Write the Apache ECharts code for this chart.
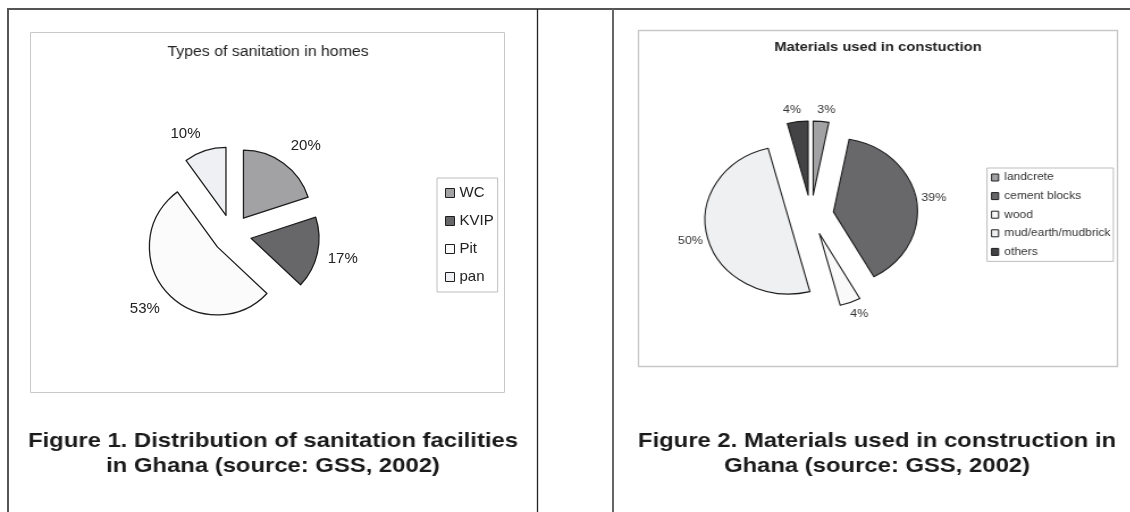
<!DOCTYPE html>
<html>
<head>
<meta charset="utf-8">
<script src="https://cdn.jsdelivr.net/npm/echarts@6/dist/echarts.min.js"></script>
<style>
  html, body { margin: 0; padding: 0; background: #fff; }
  #wrap { position: relative; width: 1130px; height: 512px; overflow: hidden; }
  #flat, #wide { position: absolute; left: 0; top: 0; width: 1130px; height: 512px; }
  /* the scanned page is squeezed vertically: text and the right pie come out wider than tall */
  #wide { transform-origin: 0 0; transform: scaleX(1.135); pointer-events: none; }
</style>
</head>
<body>
<div id="wrap"><div id="flat"></div><div id="wide"></div></div>
<script>
// Figure 1: types of sanitation in homes (%)
const sanitationNames = ['WC', 'KVIP', 'Pit', 'pan']
const sanitationValues = [20, 17, 53, 10]
const sanitationColors = ['#a2a2a5', '#676769', '#fbfbfb', '#eef0f3']
// label line [length, length2] per slice, to sit the labels where Excel put them
const sanitationLabelLine = [[21, 10], [26, 0], [26, 2], [17.6, 14]]

// Figure 2: materials used in construction (%)
const materialNames = ['landcrete', 'cement blocks', 'wood', 'mud/earth/mudbrick', 'others']
const materialValues = [3, 39, 4, 50, 4]
const materialColors = ['#a2a2a5', '#68686b', '#f9f9f9', '#eff0f2', '#434345']

const titles = ['Types of sanitation in homes', 'Materials used in constuction']
const captions = [
  'Figure 1. Distribution of sanitation facilities\nin Ghana (source: GSS, 2002)',
  'Figure 2. Materials used in construction in\nGhana (source: GSS, 2002)'
]

const FONT = '"Liberation Sans", Arial, sans-serif'
const EDGE = '#1e1e1e'
const S = 1.135
const bx = x => x / S   // page x -> x inside the stretched chart

const flat = echarts.init(document.getElementById('flat'))
const wide = echarts.init(document.getElementById('wide'))

flat.setOption({
  animation: false,
  graphic: [
    { type: 'line', shape: { x1: 7, y1: 9, x2: 1130, y2: 9 }, style: { stroke: '#555', lineWidth: 2 } },
    { type: 'line', shape: { x1: 8, y1: 9, x2: 8, y2: 512 }, style: { stroke: '#555', lineWidth: 2 } },
    { type: 'line', shape: { x1: 537.5, y1: 9, x2: 537.5, y2: 512 }, style: { stroke: '#222', lineWidth: 1.3 } },
    { type: 'line', shape: { x1: 613, y1: 9, x2: 613, y2: 512 }, style: { stroke: '#666', lineWidth: 2 } },
    { type: 'rect', shape: { x: 30.5, y: 32.5, width: 474, height: 360 }, style: { fill: 'none', stroke: '#c8c8c8', lineWidth: 1 } },
    { type: 'rect', shape: { x: 638.5, y: 30.5, width: 479, height: 336 }, style: { fill: 'none', stroke: '#c8c8c8', lineWidth: 1.5 } }
  ],
  legend: {
    data: sanitationNames,
    orient: 'vertical', left: 437, top: 178, padding: [7, 4, 7, 8],
    icon: 'rect', itemWidth: 9, itemHeight: 9, itemGap: 12,
    borderColor: '#bdbdbd', borderWidth: 1, selectedMode: false,
    itemStyle: { borderColor: EDGE, borderWidth: 1 },
    textStyle: { fontFamily: FONT, fontSize: 15, lineHeight: 16, color: '#222' }
  },
  series: [
    {
      name: 'sanitation',
      type: 'pie',
      center: [232, 234],
      radius: 68,
      startAngle: 90,
      selectedMode: 'multiple',
      selectedOffset: 19.5,
      avoidLabelOverlap: false,
      silent: true,
      itemStyle: { borderColor: EDGE, borderWidth: 1.3 },
      select: { itemStyle: { borderColor: EDGE, borderWidth: 1.3 } },
      emphasis: { disabled: true },
      label: {
        position: 'outside', formatter: '{c}%', distanceToLabelLine: -15,
        fontFamily: FONT, fontSize: 15, color: '#222'
      },
      labelLine: { show: false },
      data: sanitationNames.map((n, i) => ({
        name: n, value: sanitationValues[i], selected: true,
        itemStyle: { color: sanitationColors[i] },
        labelLine: { length: sanitationLabelLine[i][0], length2: sanitationLabelLine[i][1] }
      }))
    }
  ]
})

wide.setOption({
  animation: false,
  title: [
    { text: titles[0], left: bx(268), top: 45, textAlign: 'center', padding: 0,
      textStyle: { fontFamily: FONT, fontSize: 14, fontWeight: 'normal', color: '#222' } },
    { text: titles[1], left: bx(878), top: 41, textAlign: 'center', padding: 0,
      textStyle: { fontFamily: FONT, fontSize: 13, fontWeight: 'bold', color: '#222' } },
    { text: captions[0], left: bx(273), top: 428.5, textAlign: 'center', padding: 0,
      textStyle: { fontFamily: FONT, fontSize: 21, fontWeight: 'bold', color: '#1a1a1a', lineHeight: 25 } },
    { text: captions[1], left: bx(877), top: 428.5, textAlign: 'center', padding: 0,
      textStyle: { fontFamily: FONT, fontSize: 21, fontWeight: 'bold', color: '#1a1a1a', lineHeight: 25 } }
  ],
  legend: {
    data: materialNames,
    orient: 'vertical', left: bx(987), top: 168, padding: [3, 2.5, 3, 3.5],
    icon: 'rect', itemWidth: 6.2, itemHeight: 7, itemGap: 5.6,
    borderColor: '#bdbdbd', borderWidth: 1, selectedMode: false,
    itemStyle: { borderColor: EDGE, borderWidth: 1 },
    textStyle: { fontFamily: FONT, fontSize: 10.6, lineHeight: 13, color: '#333' }
  },
  series: [
    {
      name: 'materials',
      type: 'pie',
      center: [bx(811), 215],
      radius: 74,
      startAngle: 90,
      selectedMode: 'multiple',
      selectedOffset: 20,
      avoidLabelOverlap: false,
      silent: true,
      itemStyle: { borderColor: EDGE, borderWidth: 1.1 },
      select: { itemStyle: { borderColor: EDGE, borderWidth: 1.1 } },
      emphasis: { disabled: true },
      label: { position: 'outside', formatter: '{c}%', fontFamily: FONT, fontSize: 11, color: '#333' },
      labelLine: { show: false, length: 12, length2: 3.5 },
      data: materialNames.map((n, i) => ({
        name: n, value: materialValues[i], selected: true,
        itemStyle: { color: materialColors[i] },
        label: { distanceToLabelLine: -(String(materialValues[i]).length * 6.1 + 9.8) / 2 }
      }))
    }
  ]
})
</script>
</body>
</html>
